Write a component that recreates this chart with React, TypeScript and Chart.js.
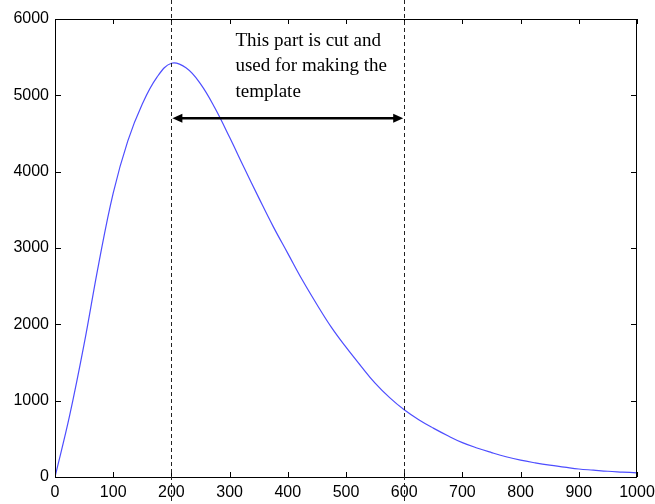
import React, { useEffect, useRef } from "react";
import { Chart, registerables } from "chart.js";

Chart.register(...registerables);

// Data
const xValues = [
  0, 25, 50, 75, 100, 125, 150, 175, 200, 225, 250, 275, 300, 325, 350, 375, 400, 425, 450, 475, 500,
  525, 550, 575, 600, 625, 650, 675, 700, 725, 750, 775, 800, 825, 850, 875, 900, 925, 950, 975, 1000,
];
const yValues = [
  0, 800, 1740, 2790, 3720, 4400, 4885, 5235, 5420, 5360, 5150, 4830, 4450, 4050, 3660, 3280, 2930, 2580, 2260, 1960, 1700,
  1460, 1230, 1040, 880, 750, 640, 540, 450, 380, 320, 265, 220, 185, 155, 130, 105, 90, 75, 65, 55,
];

const xTicks = [0, 100, 200, 300, 400, 500, 600, 700, 800, 900, 1000];
const yTicks = [0, 1000, 2000, 3000, 4000, 5000, 6000];

// Annotation data
const cutStart = 200;
const cutEnd = 600;
const arrowY = 4700;
const noteLines = ["This part is cut and", "used for making the", "template"];
const noteX = 310;
const noteY = 5650;

const annotationPlugin = {
  id: "matlabDecor",
  afterDraw(chart: any) {
    const { ctx, chartArea, scales } = chart;
    const xs = scales.x;
    const ys = scales.y;
    const { left, right, top, bottom } = chartArea;
    ctx.save();

    // Box
    ctx.strokeStyle = "#000";
    ctx.lineWidth = 1;
    ctx.beginPath();
    ctx.rect(left + 0.5, top + 0.5, right - left - 1, bottom - top);
    ctx.stroke();

    // Inward ticks
    const tl = 5;
    ctx.beginPath();
    xTicks.forEach((v) => {
      const px = Math.round(xs.getPixelForValue(v)) + 0.5;
      ctx.moveTo(px, bottom);
      ctx.lineTo(px, bottom - tl);
      ctx.moveTo(px, top);
      ctx.lineTo(px, top + tl);
    });
    yTicks.forEach((v) => {
      const py = Math.round(ys.getPixelForValue(v)) + 0.5;
      ctx.moveTo(left, py);
      ctx.lineTo(left + tl + 1, py);
      ctx.moveTo(right, py);
      ctx.lineTo(right - tl - 1, py);
    });
    ctx.stroke();

    // Dashed vertical lines
    ctx.strokeStyle = "#222";
    ctx.setLineDash([4, 3]);
    [cutStart, cutEnd].forEach((v) => {
      const px = Math.round(xs.getPixelForValue(v)) + 0.5;
      ctx.beginPath();
      ctx.moveTo(px, 0);
      ctx.lineTo(px, chart.height);
      ctx.stroke();
    });
    ctx.setLineDash([]);

    // Double arrow
    const ax1 = xs.getPixelForValue(cutStart) + 1;
    const ax2 = xs.getPixelForValue(cutEnd) - 1;
    const ay = ys.getPixelForValue(arrowY);
    const head = 10;
    const hh = 4.5;
    ctx.strokeStyle = "#000";
    ctx.fillStyle = "#000";
    ctx.lineWidth = 2.5;
    ctx.beginPath();
    ctx.moveTo(ax1 + head - 1, ay);
    ctx.lineTo(ax2 - head + 1, ay);
    ctx.stroke();
    ctx.beginPath();
    ctx.moveTo(ax1, ay);
    ctx.lineTo(ax1 + head, ay - hh);
    ctx.lineTo(ax1 + head, ay + hh);
    ctx.closePath();
    ctx.fill();
    ctx.beginPath();
    ctx.moveTo(ax2, ay);
    ctx.lineTo(ax2 - head, ay - hh);
    ctx.lineTo(ax2 - head, ay + hh);
    ctx.closePath();
    ctx.fill();

    // Note text
    ctx.font = "19px 'Liberation Serif', 'Times New Roman', serif";
    ctx.textAlign = "left";
    ctx.textBaseline = "alphabetic";
    const tx = xs.getPixelForValue(noteX);
    const ty = ys.getPixelForValue(noteY);
    noteLines.forEach((line, i) => {
      ctx.fillText(line, tx, ty + i * 25.5);
    });

    ctx.restore();
  },
};

export default function App() {
  const canvasRef = useRef<HTMLCanvasElement | null>(null);

  useEffect(() => {
    document.body.style.margin = "0";
    const canvas = canvasRef.current;
    if (!canvas) return;
    Chart.defaults.font.family = "'Liberation Sans', Arial, sans-serif";
    Chart.defaults.font.size = 16;
    Chart.defaults.color = "#000";

    const chart = new Chart(canvas, {
      type: "line",
      data: {
        datasets: [
          {
            data: xValues.map((x, i) => ({ x, y: yValues[i] })),
            borderColor: "#4d4dff",
            borderWidth: 1.2,
            pointRadius: 0,
            tension: 0.4,
            fill: false,
          },
        ],
      },
      options: {
        responsive: false,
        animation: false,
        events: [],
        layout: { padding: { top: 19, right: 18, left: 0, bottom: 0 } },
        plugins: { legend: { display: false }, tooltip: { enabled: false } },
        scales: {
          x: {
            type: "linear",
            min: 0,
            max: 1000,
            grid: { display: false, drawTicks: false },
            border: { display: false },
            ticks: {
              stepSize: 100,
              padding: 6,
              maxRotation: 0,
              color: "#000",
              font: { size: 16 },
              callback: (v: any) => String(v),
            },
            afterFit: (scale: any) => {
              scale.height = 27;
              scale.paddingLeft = 0;
              scale.paddingRight = 0;
            },
          },
          y: {
            type: "linear",
            min: 0,
            max: 6000,
            grid: { display: false, drawTicks: false },
            border: { display: false },
            ticks: {
              stepSize: 1000,
              padding: 6,
              color: "#000",
              font: { size: 16 },
              callback: (v: any) => String(v),
            },
            afterFit: (scale: any) => {
              scale.width = 55;
              scale.paddingTop = 0;
              scale.paddingBottom = 0;
            },
          },
        },
      },
      plugins: [annotationPlugin],
    } as any);

    return () => chart.destroy();
  }, []);

  return (
    <div style={{ width: 655, height: 504 }}>
      <canvas ref={canvasRef} width={655} height={504} style={{ display: "block" }} />
    </div>
  );
}
